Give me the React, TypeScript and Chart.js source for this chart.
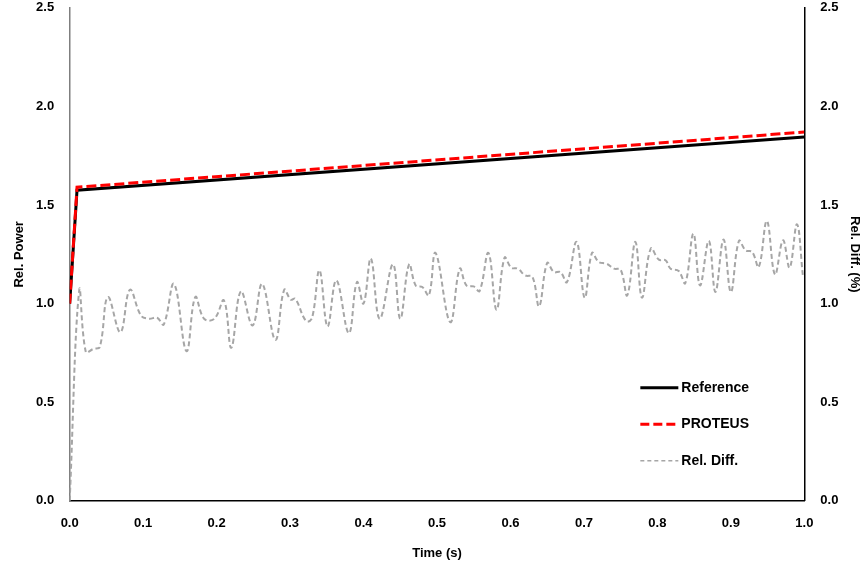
import React, { useEffect, useRef } from "react";
import { Chart, registerables } from "chart.js";

Chart.register(...registerables);

const refTime = [0, 0.01, 1.0];
const refPower = [1.0, 1.575, 1.845];

const proteusTime = [0, 0.01, 1.0];
const proteusPower = [1.0, 1.59, 1.87];

const diffTime = [
  0, 0.013, 0.022, 0.032, 0.041, 0.052, 0.069, 0.082, 0.097, 0.108, 0.119, 0.128,
  0.142, 0.159, 0.171, 0.183, 0.197, 0.21, 0.22, 0.233, 0.249, 0.262, 0.28, 0.292,
  0.301, 0.307, 0.322, 0.33, 0.34, 0.351, 0.363, 0.38, 0.391, 0.4, 0.41, 0.422,
  0.44, 0.45, 0.462, 0.471, 0.48, 0.489, 0.498, 0.518, 0.531, 0.54, 0.55, 0.558,
  0.57, 0.581, 0.592, 0.601, 0.61, 0.62, 0.63, 0.639, 0.65, 0.659, 0.668, 0.677,
  0.69, 0.701, 0.711, 0.72, 0.731, 0.741, 0.75, 0.759, 0.77, 0.779, 0.791, 0.802,
  0.811, 0.818, 0.829, 0.838, 0.849, 0.858, 0.87, 0.879, 0.89, 0.9, 0.911, 0.92,
  0.929, 0.938, 0.949, 0.96, 0.971, 0.98, 0.99, 0.998,
];
const diffValue = [
  0.0, 1.067, 0.754, 0.77, 0.78, 1.033, 0.855, 1.07, 0.94, 0.923, 0.928, 0.894,
  1.1, 0.759, 1.033, 0.923, 0.923, 1.016, 0.776, 1.062, 0.889, 1.1, 0.816, 1.07,
  1.02, 1.025, 0.911, 0.928, 1.169, 0.884, 1.118, 0.85, 1.109, 1.0, 1.228, 0.923,
  1.199, 0.923, 1.199, 1.092, 1.084, 1.042, 1.257, 0.906, 1.177, 1.092, 1.087, 1.064,
  1.257, 0.969, 1.233, 1.182, 1.177, 1.143, 1.135, 0.986, 1.206, 1.16, 1.16, 1.109,
  1.313, 1.03, 1.257, 1.211, 1.202, 1.177, 1.172, 1.042, 1.313, 1.03, 1.279, 1.223,
  1.22, 1.177, 1.165, 1.104, 1.355, 1.092, 1.318, 1.059, 1.325, 1.059, 1.318, 1.27,
  1.262, 1.186, 1.419, 1.148, 1.321, 1.182, 1.402, 1.143,
];

const seriesNames = ["Reference", "PROTEUS", "Rel. Diff."];
const xTitle = "Time (s)";
const yLeftTitle = "Rel. Power";
const yRightTitle = "Rel. Diff. (%)";

const FONT = "'Liberation Sans', Arial, sans-serif";

const legendPlugin = {
  id: "customLegend",
  afterDraw(chart: any) {
    const { ctx, chartArea } = chart;
    const items = [
      { label: seriesNames[0], color: "#000000", width: 3, dash: [] as number[] },
      { label: seriesNames[1], color: "#ff0000", width: 3, dash: [9, 4] },
      { label: seriesNames[2], color: "#a6a6a6", width: 1.5, dash: [4, 3] },
    ];
    const x0 = chartArea.right - 164;
    const y0 = chartArea.top + 380;
    const gap = 36.5;
    ctx.save();
    items.forEach((it, i) => {
      const y = y0 + i * gap;
      ctx.beginPath();
      ctx.setLineDash(it.dash);
      ctx.strokeStyle = it.color;
      ctx.lineWidth = it.width;
      ctx.moveTo(x0, y);
      ctx.lineTo(x0 + 38, y);
      ctx.stroke();
      ctx.setLineDash([]);
      ctx.fillStyle = "#000000";
      ctx.font = `bold 14px ${FONT}`;
      ctx.textBaseline = "middle";
      ctx.textAlign = "left";
      ctx.fillText(it.label, x0 + 41, y);
    });
    ctx.restore();
  },
};

export default function App() {
  const canvasRef = useRef<HTMLCanvasElement>(null);

  useEffect(() => {
    if (!canvasRef.current) return;
    const tickFont = { family: FONT, size: 13, weight: "bold" as const };
    const titleFont = { family: FONT, size: 13, weight: "bold" as const };
    const chart = new Chart(canvasRef.current, {
      type: "line",
      data: {
        datasets: [
          {
            label: seriesNames[2],
            data: diffTime.map((t, i) => ({ x: t, y: diffValue[i] })),
            yAxisID: "y2",
            borderColor: "#a6a6a6",
            borderWidth: 2,
            borderDash: [5, 3],
            pointRadius: 0,
            tension: 0.4,
            fill: false,
            order: 3,
          },
          {
            label: seriesNames[0],
            data: refTime.map((t, i) => ({ x: t, y: refPower[i] })),
            yAxisID: "y",
            borderColor: "#000000",
            borderWidth: 3,
            pointRadius: 0,
            tension: 0,
            fill: false,
            order: 2,
          },
          {
            label: seriesNames[1],
            data: proteusTime.map((t, i) => ({ x: t, y: proteusPower[i] })),
            yAxisID: "y",
            borderColor: "#ff0000",
            borderWidth: 3,
            borderDash: [10, 4],
            pointRadius: 0,
            tension: 0,
            fill: false,
            order: 1,
          },
        ],
      },
      options: {
        animation: false,
        responsive: true,
        maintainAspectRatio: false,
        layout: { padding: { left: 12, right: 3, top: 0, bottom: 12 } },
        plugins: {
          legend: { display: false },
          tooltip: { enabled: false },
        },
        scales: {
          x: {
            type: "linear",
            min: 0,
            max: 1,
            grid: { display: false },
            border: { display: true, color: "#000000", width: 1.5 },
            ticks: {
              stepSize: 0.1,
              color: "#000000",
              font: tickFont,
              padding: 7,
              callback: (v: any) => Number(v).toFixed(1),
            },
            title: { display: true, text: xTitle, color: "#000000", font: titleFont, padding: { top: 7, bottom: 0 } },
          },
          y: {
            type: "linear",
            position: "left",
            min: 0,
            max: 2.5,
            grid: { display: false },
            border: { display: true, color: "#7f7f7f", width: 1.5 },
            ticks: {
              stepSize: 0.5,
              color: "#000000",
              font: tickFont,
              padding: 7.5,
              callback: (v: any) => Number(v).toFixed(1),
            },
            title: { display: true, text: yLeftTitle, color: "#000000", font: titleFont, padding: { top: 0, bottom: 1 } },
          },
          y2: {
            type: "linear",
            position: "right",
            min: 0,
            max: 2.5,
            grid: { display: false },
            border: { display: true, color: "#000000", width: 1.5 },
            ticks: {
              stepSize: 0.5,
              color: "#000000",
              font: tickFont,
              padding: 8,
              callback: (v: any) => Number(v).toFixed(1),
            },
            title: { display: true, text: yRightTitle, color: "#000000", font: titleFont, padding: { top: 2, bottom: 0 } },
          },
        },
      },
      plugins: [legendPlugin],
    });
    return () => chart.destroy();
  }, []);

  return (
    <div style={{ position: "absolute", left: 0, top: -8, width: 867, height: 581, background: "#ffffff" }}>
      <canvas ref={canvasRef} />
    </div>
  );
}
